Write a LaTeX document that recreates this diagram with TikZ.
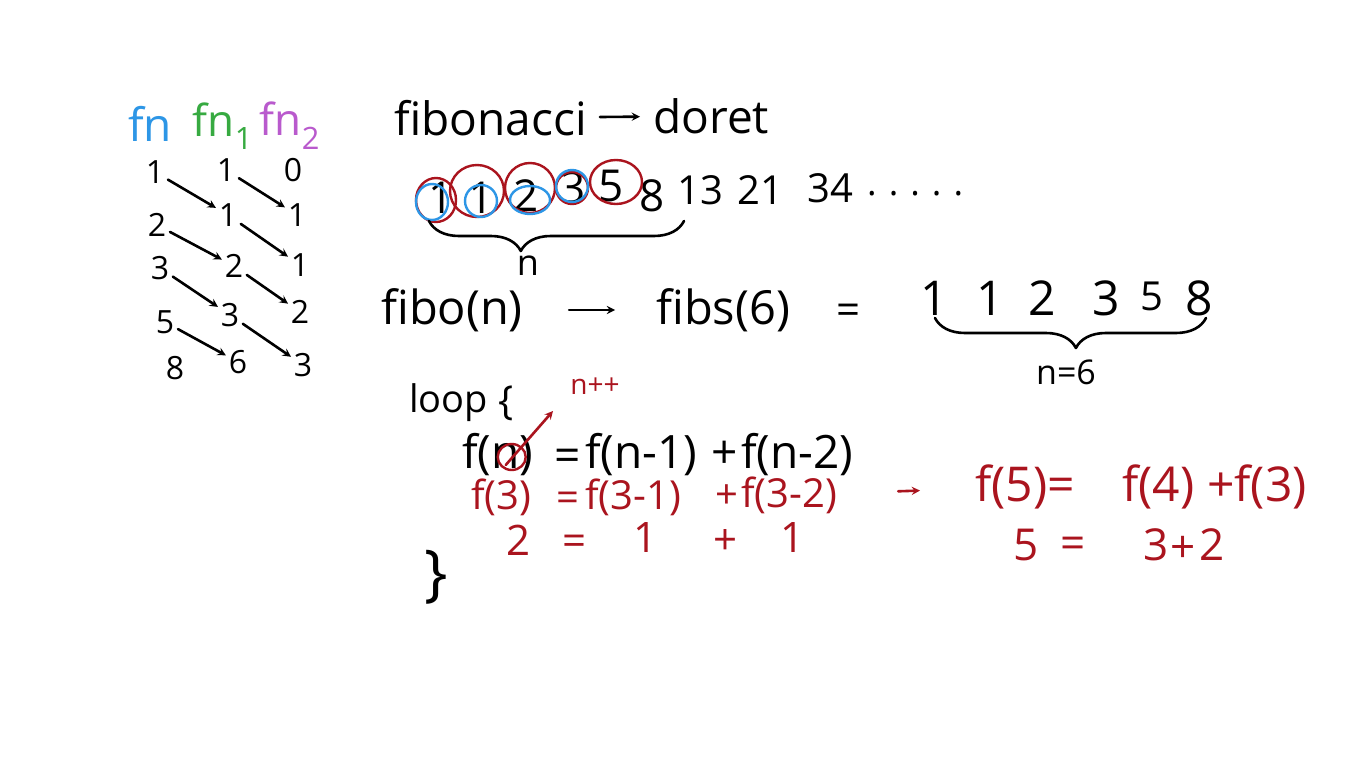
\documentclass[tikz,border=0pt]{standalone}
\usepackage{fontspec}
\setmainfont{Open Sans}
\usetikzlibrary{positioning,decorations.pathreplacing}

\definecolor{fnblue}{RGB}{45,150,230}
\definecolor{fngreen}{RGB}{55,170,65}
\definecolor{fnpurple}{RGB}{185,90,205}
\definecolor{inkred}{RGB}{170,20,30}

\newcommand{\fs}[1]{\fontsize{#1}{#1}\selectfont}

\begin{document}
\begin{tikzpicture}[
  x=1pt,y=-1pt,
  pen/.style={line width=2.6pt, line cap=round, line join=round},
  num/.style={font=\fs{32}, inner sep=1pt},
  hand/.style={inner sep=1pt},
  carry/.style={pen, ->, >=stealth, shorten <=3pt, shorten >=2pt},
  redring/.style={inkred, line width=2.4pt},
  bluering/.style={fnblue, line width=2.4pt},
  hbrace/.style={pen, decorate, decoration={brace, mirror, amplitude=30pt}}
]
\useasboundingbox[fill=white] (0,0) rectangle (1366,768);

% table of fn, fn1, fn2
\node[hand, fnblue, font=\fs{46}] (hfn) at (150,124) {fn};
\node[hand, fngreen, font=\fs{44}] (hfna) at (223,126) {fn\textsubscript{1}};
\node[hand, fnpurple, font=\fs{44}] (hfnb) at (290,126) {fn\textsubscript{2}};

\node[num] (a1) at (155,172) {1};
\node[num] (a2) at (157,225) {2};
\node[num] (a3) at (160,268) {3};
\node[num] (a4) at (165,322) {5};
\node[num] (a5) at (175,368) {8};

\node[num] (b1) at (226,170) {1};
\node[num] (b2) at (228,215) {1};
\node[num] (b3) at (234,266) {2};
\node[num] (b4) at (230,315) {3};
\node[num] (b5) at (238,362) {6};

\node[num] (c1) at (293,170) {0};
\node[num] (c2) at (297,215) {1};
\node[num] (c3) at (300,265) {1};
\node[num] (c4) at (300,312) {2};
\node[num] (c5) at (303,365) {3};

\foreach \i/\j in {1/2,2/3,3/4,4/5} {
  \draw[carry] (a\i) -- (b\j);
  \draw[carry] (b\i) -- (c\j);
}

% fibonacci -> doret
\node[hand, anchor=west, font=\fs{46}] (fib) at (393,118) {fibonacci};
\node[hand, anchor=west, font=\fs{46}] (doret) at (652,116) {doret};
\draw[pen, ->, >=stealth, shorten <=12pt, shorten >=12pt] (fib) -- (doret);

% the sequence
\node[hand, font=\fs{44}] (s1) at (441,198) {1};
\node[hand, font=\fs{44}] (s2) at (481,198) {1};
\node[hand, font=\fs{44}] (s3) at (526,196) {2};
\node[hand, font=\fs{44}] (s4) at (573,188) {3};
\node[hand, font=\fs{44}] (s5) at (611,186) {5};
\node[hand, font=\fs{44}] (s6) at (652,196) {8};
\node[hand, font=\fs{40}] (s7) at (700,190) {13};
\node[hand, font=\fs{40}] (s8) at (760,190) {21};
\node[hand, font=\fs{40}] (s9) at (830,188) {34};
\node[hand, anchor=west, font=\fs{36}] (dots) at (866,194) {.\,\,.\,\,.\,\,.\,\,.};

\draw[redring] (s1) ++(-5,2) circle [x radius=20pt, y radius=22pt];
\draw[redring] (s2) ++(-4,-7) circle [x radius=27pt, y radius=26pt];
\draw[redring] (s3) ++(4,-8) circle [x radius=25pt, y radius=25pt];
\draw[redring] (s4) ++(-1,0) circle [x radius=16pt, y radius=16pt];
\draw[redring] (s5) ++(5,-4) circle [x radius=26pt, y radius=22pt];
\draw[bluering] (s1) ++(-9,4) circle [x radius=16pt, y radius=18pt];
\draw[bluering] (s2) ++(0,3) circle [x radius=16pt, y radius=16pt];
\draw[bluering] (s3) ++(4,4) circle [x radius=20pt, y radius=14pt];
\draw[bluering] (s4) ++(-1,-2) circle [x radius=16pt, y radius=16pt];

\draw[hbrace, decoration={aspect=0.36}] (429,221) -- (684,221);
\node[hand, font=\fs{36}] (nlab) at (528,266) {n};

% fibo(n) -> fibs(6)
\node[hand, anchor=west, font=\fs{47}] (fibo) at (380,310) {fibo(n)};
\node[hand, anchor=west, font=\fs{47}] (fibs) at (655,310) {fibs(6)};
\draw[pen, ->, >=stealth, shorten <=45pt, shorten >=40pt] (fibo) -- (fibs);
\node[hand, font=\fs{42}] (eq) at (848,314) {=};

\node[hand, font=\fs{48}] (r1) at (934,298) {1};
\node[hand, font=\fs{48}] (r2) at (990,298) {1};
\node[hand, font=\fs{48}] (r3) at (1042,298) {2};
\node[hand, font=\fs{48}] (r4) at (1106,298) {3};
\node[hand, font=\fs{40}] (r5) at (1152,296) {5};
\node[hand, font=\fs{48}] (r6) at (1199,298) {8};
\draw[hbrace, decoration={aspect=0.52}] (935,318) -- (1206,318);
\node[hand, font=\fs{34}] (nsix) at (1066,372) {n=6};

% loop
\node[hand, anchor=west, font=\fs{38}] (loop) at (408,403) {loop};
\node[hand, font=\fs{40}] (open) at (506,403) {\{};
\node[hand, inkred, font=\fs{28}] (npp) at (595,386) {n++};
\coordinate (nup) at (553,411);

\node[hand, anchor=west, font=\fs{46}] (fn) at (461,455) {f(n)};
\node[hand, font=\fs{46}] (eqa) at (568,460) {=};
\node[hand, anchor=west, font=\fs{46}] (fna) at (584,455) {f(n-1)};
\node[hand, font=\fs{46}] (pla) at (725,455) {+};
\node[hand, anchor=west, font=\fs{46}] (fnb) at (740,455) {f(n-2)};
\draw[redring] (fn) ++(14,2) circle [x radius=14pt, y radius=13pt];
\draw[pen, inkred, ->, >=stealth] (fn) ++(8,10) -- (nup);

\node[hand, anchor=west, inkred, font=\fs{40}] (ra) at (470,497) {f(3)};
\node[hand, inkred, font=\fs{40}] (rb) at (568,502) {=};
\node[hand, anchor=west, inkred, font=\fs{40}] (rc) at (584,497) {f(3-1)};
\node[hand, inkred, font=\fs{40}] (rd) at (727,497) {+};
\node[hand, anchor=west, inkred, font=\fs{40}] (re) at (740,495) {f(3-2)};

\node[hand, inkred, font=\fs{42}] (v1) at (519,540) {2};
\node[hand, inkred, font=\fs{42}] (v2) at (575,545) {=};
\node[hand, inkred, font=\fs{42}] (v3) at (646,538) {1};
\node[hand, inkred, font=\fs{42}] (v4) at (725,542) {+};
\node[hand, inkred, font=\fs{42}] (v5) at (792,538) {1};
\node[hand, font=\fs{62}] (close) at (436,577) {\}};

% f(5)
\node[hand, anchor=west, inkred, font=\fs{48}] (wa) at (974,487) {f(5)=};
\node[hand, anchor=west, inkred, font=\fs{48}] (wb) at (1121,487) {f(4)};
\node[hand, anchor=west, inkred, font=\fs{48}] (wc) at (1206,487) {+f(3)};
\draw[pen, inkred, ->, >=stealth, shorten <=60pt, shorten >=54pt] (re) -- (wa);

\node[hand, inkred, font=\fs{44}] (w1) at (1026,545) {5};
\node[hand, inkred, font=\fs{44}] (w2) at (1073,548) {=};
\node[hand, inkred, font=\fs{44}] (w3) at (1156,545) {3};
\node[hand, inkred, font=\fs{44}] (w4) at (1183,549) {+};
\node[hand, inkred, font=\fs{44}] (w5) at (1212,545) {2};
\end{tikzpicture}
\end{document}
